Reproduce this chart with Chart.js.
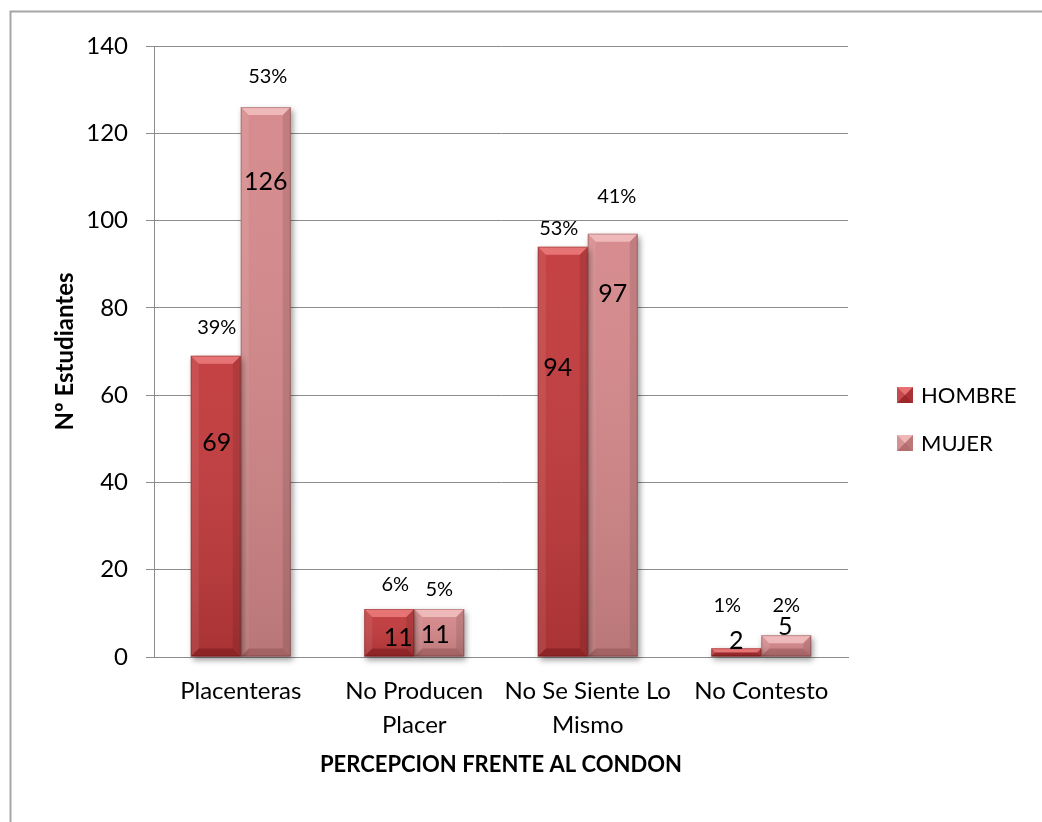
<!DOCTYPE html>
<html>
<head>
<meta charset="utf-8">
<title>Percepción frente al condón</title>
<script src="https://cdn.jsdelivr.net/npm/chart.js@4.4.1/dist/chart.umd.min.js"></script>
<style>
  html, body { margin: 0; padding: 0; background: #ffffff; }
  canvas { display: block; }
</style>
</head>
<body>
<canvas id="chart" width="1042" height="822"></canvas>
<script>
// ---- data ----
const categories = ['Placenteras', ['No Producen', 'Placer'], ['No Se Siente Lo', 'Mismo'], 'No Contesto'];
const seriesNames = ['HOMBRE', 'MUJER'];
const hombre = [69, 11, 94, 2];
const mujer = [126, 11, 97, 5];
const pctHombre = ['39%', '6%', '53%', '1%'];
const pctMujer = ['53%', '5%', '41%', '2%'];
const yTicks = [0, 20, 40, 60, 80, 100, 120, 140];

// ---- label placement (value-axis height of each label, sideways nudge in px) ----
const valueLabelAt = [[49, 4.3, 66.2, 3.7], [108.8, 5.0, 83.2, 7.0]];
const valueNudge = [[1, 9, -5, 0], [0, -4, 0, -1]];
const pctLabelAt = [[75.6, 16.5, 98.1, 11.7], [133.0, 15.4, 105.4, 11.9]];
const pctNudge = [[1, 6, -4, -9], [2, 0, 4, 0]];

const FONT = 'Lato, "Open Sans", "DejaVu Sans", sans-serif';
const GRID = '#8c8c8c';

const palette = [
  { face: '#c23a3c', light: 'rgba(255,150,150,0.6)', dark: 'rgba(90,10,12,0.35)' },
  { face: '#d5888a', light: 'rgba(255,215,215,0.6)', dark: 'rgba(110,50,52,0.30)' }
];

// outer frame around the chart
const framePlugin = {
  id: 'frame',
  beforeDraw(chart) {
    const ctx = chart.ctx;
    ctx.save();
    ctx.fillStyle = '#ffffff';
    ctx.fillRect(0, 0, chart.width, chart.height);
    ctx.strokeStyle = '#a6a6a6';
    ctx.lineWidth = 2;
    ctx.strokeRect(10.5, 11.5, 1200, 1200);
    ctx.restore();
  }
};

// bevel shading drawn over a bar rectangle
function bevel(ctx, l, t, r, b, size, pal) {
  const h = b - t;
  const s = Math.min(size, h / 2, (r - l) / 2);
  const g = ctx.createLinearGradient(0, t, 0, b);
  g.addColorStop(0, 'rgba(255,255,255,0.04)');
  g.addColorStop(1, 'rgba(0,0,0,0.13)');
  ctx.fillStyle = g;
  ctx.fillRect(l, t, r - l, h);
  ctx.fillStyle = pal.light;
  ctx.beginPath();
  ctx.moveTo(l, t); ctx.lineTo(r, t); ctx.lineTo(r - s, t + s); ctx.lineTo(l + s, t + s);
  ctx.closePath(); ctx.fill();
  ctx.fillStyle = pal.dark;
  ctx.beginPath();
  ctx.moveTo(l, b); ctx.lineTo(r, b); ctx.lineTo(r - s, b - s); ctx.lineTo(l + s, b - s);
  ctx.closePath(); ctx.fill();
  ctx.fillStyle = 'rgba(255,255,255,0.08)';
  ctx.beginPath();
  ctx.moveTo(l, t); ctx.lineTo(l + s, t + s); ctx.lineTo(l + s, b - s); ctx.lineTo(l, b);
  ctx.closePath(); ctx.fill();
  ctx.fillStyle = 'rgba(0,0,0,0.10)';
  ctx.beginPath();
  ctx.moveTo(r, t); ctx.lineTo(r - s, t + s); ctx.lineTo(r - s, b - s); ctx.lineTo(r, b);
  ctx.closePath(); ctx.fill();
  ctx.strokeStyle = 'rgba(60,0,0,0.25)';
  ctx.lineWidth = 1;
  ctx.strokeRect(l + 0.5, t + 0.5, r - l - 1, h - 1);
}

// soft drop shadow behind the bars, then bevel shading on top of them
const bevelPlugin = {
  id: 'bevelBars',
  beforeDatasetsDraw(chart) {
    const ctx = chart.ctx;
    ctx.save();
    ctx.shadowColor = 'rgba(0,0,0,0.40)';
    ctx.shadowBlur = 6;
    ctx.shadowOffsetX = 2;
    ctx.shadowOffsetY = 3;
  },
  afterDatasetsDraw(chart) {
    const ctx = chart.ctx;
    ctx.restore();
    ctx.save();
    chart.data.datasets.forEach((ds, di) => {
      chart.getDatasetMeta(di).data.forEach(bar => {
        const p = bar.getProps(['x', 'y', 'base', 'width'], true);
        const l = p.x - p.width / 2, r = p.x + p.width / 2;
        bevel(ctx, l, Math.min(p.y, p.base), r, Math.max(p.y, p.base), 8, palette[di]);
      });
    });
    ctx.restore();
  }
};

// value and percentage labels
const labelPlugin = {
  id: 'barLabels',
  afterDatasetsDraw(chart) {
    const ctx = chart.ctx;
    const y = chart.scales.y;
    const values = [hombre, mujer];
    const pcts = [pctHombre, pctMujer];
    ctx.save();
    ctx.fillStyle = '#000000';
    ctx.textAlign = 'center';
    ctx.textBaseline = 'middle';
    chart.data.datasets.forEach((ds, di) => {
      chart.getDatasetMeta(di).data.forEach((bar, i) => {
        ctx.font = '25px ' + FONT;
        ctx.fillText(String(values[di][i]), bar.x + valueNudge[di][i], y.getPixelForValue(valueLabelAt[di][i]));
        ctx.font = '20px ' + FONT;
        ctx.fillText(pcts[di][i], bar.x + pctNudge[di][i], y.getPixelForValue(pctLabelAt[di][i]));
      });
    });
    ctx.restore();
  }
};

// legend on the right with bevelled swatches
const legendPlugin = {
  id: 'sideLegend',
  afterDraw(chart) {
    const ctx = chart.ctx;
    ctx.save();
    const x0 = 897, size = 16, rows = [395, 443];
    chart.data.datasets.forEach((ds, di) => {
      const cy = rows[di];
      const l = x0, t = cy - size / 2, r = x0 + size, b = cy + size / 2;
      const cx = (l + r) / 2, cyy = (t + b) / 2;
      ctx.fillStyle = palette[di].face;
      ctx.fillRect(l, t, size, size);
      const tri = (pts, col) => {
        ctx.fillStyle = col;
        ctx.beginPath();
        ctx.moveTo(pts[0], pts[1]); ctx.lineTo(pts[2], pts[3]); ctx.lineTo(pts[4], pts[5]);
        ctx.closePath(); ctx.fill();
      };
      tri([l, t, r, t, cx, cyy], palette[di].light);
      tri([l, b, r, b, cx, cyy], palette[di].dark);
      tri([r, t, r, b, cx, cyy], 'rgba(0,0,0,0.12)');
      tri([l, t, l, b, cx, cyy], 'rgba(255,255,255,0.08)');
      ctx.fillStyle = '#000000';
      ctx.font = '22px ' + FONT;
      ctx.textAlign = 'left';
      ctx.textBaseline = 'middle';
      ctx.fillText(ds.label, 921, cy + 1);
    });
    ctx.restore();
  }
};

new Chart(document.getElementById('chart'), {
  type: 'bar',
  data: {
    labels: categories,
    datasets: [
      { label: seriesNames[0], data: hombre, backgroundColor: palette[0].face },
      { label: seriesNames[1], data: mujer, backgroundColor: palette[1].face }
    ]
  },
  options: {
    responsive: false,
    animation: false,
    devicePixelRatio: 1,
    layout: { padding: { left: 0, top: 46, right: 194, bottom: 0 } },
    datasets: { bar: { categoryPercentage: 0.5764, barPercentage: 1.0, borderWidth: 0, clip: false } },
    plugins: {
      legend: { display: false },
      tooltip: { enabled: false },
      title: { display: false }
    },
    scales: {
      x: {
        afterFit(scale) { scale.height = 165; },
        grid: { display: true, drawOnChartArea: false, drawTicks: false },
        border: { display: true, color: GRID, width: 1 },
        ticks: {
          color: '#000000',
          font: { family: FONT, size: 24, lineHeight: 1.42 },
          padding: 17,
          maxRotation: 0,
          autoSkip: false
        },
        title: {
          display: true,
          text: 'PERCEPCION FRENTE AL CONDON',
          color: '#000000',
          font: { family: FONT, size: 22, weight: 'bold' },
          padding: { top: 0, bottom: 44 }
        }
      },
      y: {
        min: 0,
        max: 140,
        afterFit(scale) { scale.width = 154; },
        afterBuildTicks(scale) { scale.ticks = yTicks.map(v => ({ value: v })); },
        grid: { color: GRID, lineWidth: 1, tickLength: 8, drawTicks: true },
        border: { display: true, color: GRID, width: 1 },
        ticks: {
          color: '#000000',
          font: { family: FONT, size: 24 },
          padding: 18
        },
        title: {
          display: true,
          text: 'Nº Estudiantes',
          color: '#000000',
          font: { family: FONT, size: 24, weight: 'bold' },
          padding: { top: 51, bottom: 0 }
        }
      }
    }
  },
  plugins: [framePlugin, bevelPlugin, labelPlugin, legendPlugin]
});
</script>
</body>
</html>
